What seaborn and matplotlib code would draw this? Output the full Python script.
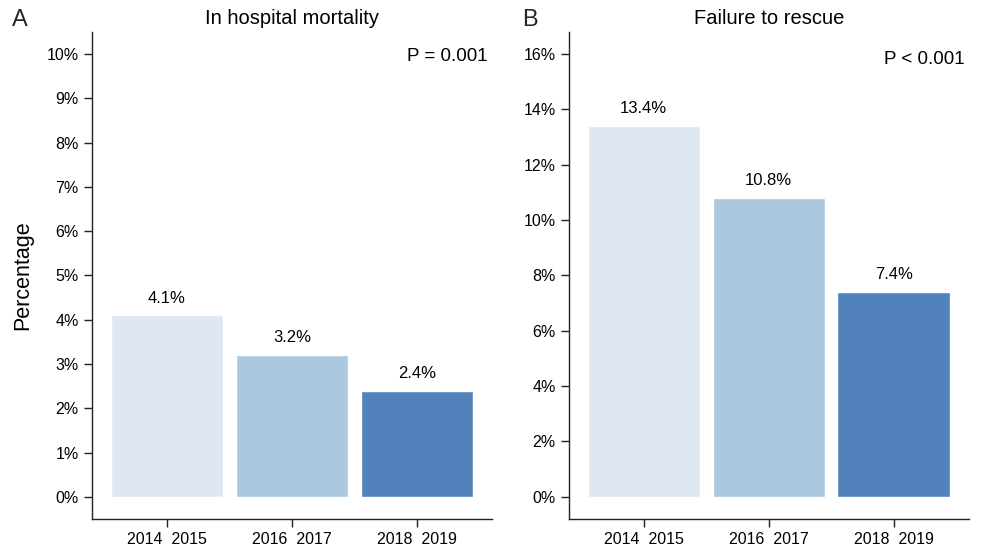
import pandas as pd
import seaborn as sns
import matplotlib.pyplot as plt
from matplotlib.ticker import FuncFormatter

# --- data ---
periods = ["2014  2015", "2016  2017", "2018  2019"]
mortality = [4.1, 3.2, 2.4]
failure_rescue = [13.4, 10.8, 7.4]
bar_colors = ["#dfe8f2", "#abc8de", "#5282bb"]

sns.set_style("ticks")
plt.rcParams['font.family'] = ['Liberation Sans', 'DejaVu Sans']

fig = plt.figure(figsize=(9.84, 5.46), dpi=100)
ax1 = fig.add_axes([0.0935, 0.0495, 0.4065, 0.892])
ax2 = fig.add_axes([0.578, 0.0495, 0.4065, 0.892])

panels = [
    (ax1, mortality, "In hospital mortality", "P = 0.001", 10, 1, 0.949),
    (ax2, failure_rescue, "Failure to rescue", "P < 0.001", 16, 2, 0.943),
]

for ax, vals, title, ptxt, ymax, step, py in panels:
    df = pd.DataFrame({"period": periods, "pct": vals})
    sns.barplot(data=df, x="period", y="pct", hue="period", palette=bar_colors,
                width=0.9, saturation=1, legend=False, ax=ax)
    for i, v in enumerate(vals):
        ax.text(i, v + ymax * 0.022, f"{v:.1f}%", ha="center", va="bottom",
                fontsize=12, color="black")
    pad = ymax * 0.05
    ax.set_ylim(-pad, ymax + pad)
    ax.set_xlim(-0.6, 2.6)
    ax.set_yticks(range(0, ymax + 1, step))
    ax.yaxis.set_major_formatter(FuncFormatter(lambda y, _: f"{y:.0f}%"))
    ax.tick_params(labelsize=11.5, length=6, width=1, color="#222222", labelcolor="black")
    ax.set_xlabel("")
    ax.set_ylabel("")
    ax.set_title(title, fontsize=14.5, pad=6, color="black")
    ax.text(0.99, py, ptxt, transform=ax.transAxes, ha="right", va="center",
            fontsize=13.5, color="black")
    for s in ["left", "bottom"]:
        ax.spines[s].set_linewidth(1)
        ax.spines[s].set_color("#222222")
    sns.despine(ax=ax)

ax1.set_ylabel("Percentage", fontsize=15.5, labelpad=10, color="black")
fig.text(0.012, 0.963, "A", fontsize=17, va="center")
fig.text(0.531, 0.963, "B", fontsize=17, va="center")

plt.savefig("out.png", dpi=100)
